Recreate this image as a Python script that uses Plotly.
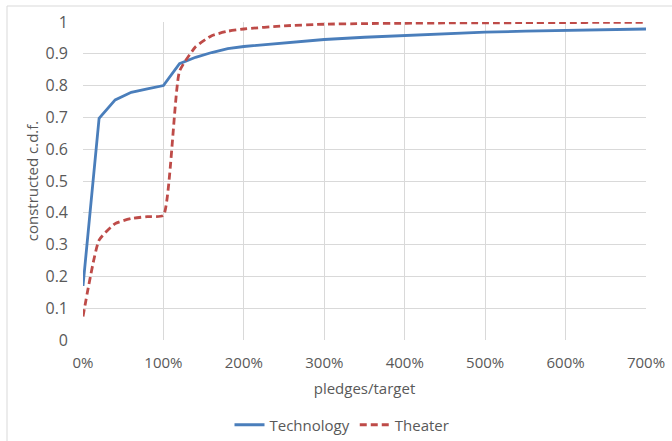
import plotly.graph_objects as go

# pledges/target ratio (1.0 = 100%)
ratio = [0.0, 0.2, 0.4, 0.6, 0.8, 1.0, 1.2, 1.4, 1.6, 1.8, 2.0,
         2.5, 3.0, 3.5, 4.0, 4.5, 5.0, 5.5, 6.0, 6.5, 7.0]
technology = [0.170, 0.697, 0.755, 0.779, 0.790, 0.800, 0.869, 0.889, 0.904, 0.916, 0.923,
              0.935, 0.945, 0.952, 0.958, 0.963, 0.968, 0.971, 0.974, 0.976, 0.978]
theater = [0.074, 0.314, 0.366, 0.382, 0.388, 0.392, 0.845, 0.922, 0.957, 0.971, 0.978,
           0.988, 0.993, 0.995, 0.996, 0.997, 0.997, 0.998, 0.998, 0.999, 0.999]

x_ticks = [0, 1, 2, 3, 4, 5, 6, 7]
x_tick_labels = ["0%", "100%", "200%", "300%", "400%", "500%", "600%", "700%"]
y_ticks = [0, 0.1, 0.2, 0.3, 0.4, 0.5, 0.6, 0.7, 0.8, 0.9, 1]
y_tick_labels = ["0", "0.1", "0.2", "0.3", "0.4", "0.5", "0.6", "0.7", "0.8", "0.9", "1"]

FONT = "Open Sans"
TXT = "#595959"
GRID = "#d9d9d9"

fig = go.Figure()
fig.add_trace(go.Scatter(x=ratio, y=technology, name="Technology", mode="lines",
                         line=dict(color="#4a7ebb", width=2.8), cliponaxis=False))
fig.add_trace(go.Scatter(x=ratio, y=theater, name="Theater", mode="lines",
                         line=dict(color="#be4b48", width=2.8, dash="7px,4px", shape="spline", smoothing=0.45),
                         cliponaxis=False))

L, R, T, B = 83, 646, 22, 340
W, H = 672, 441
pw, ph = R - L, B - T

def px(xp):
    return (xp - L) / pw

def py(yp):
    return (B - yp) / ph

fig.add_shape(type="rect", xref="paper", yref="paper",
              x0=px(7), x1=px(680), y0=py(450), y1=py(6),
              line=dict(color=GRID, width=1), fillcolor="rgba(0,0,0,0)", layer="below")

fig.update_layout(
    width=W, height=H,
    margin=dict(l=L, r=W - R, t=T, b=H - B, pad=0, autoexpand=False),
    paper_bgcolor="white", plot_bgcolor="white",
    font=dict(family=FONT, size=15, color=TXT),
    showlegend=True,
    legend=dict(orientation="h", xref="container", yref="container",
                x=342 / W, xanchor="center", y=1 - 425 / H, yanchor="middle",
                font=dict(family=FONT, size=15, color=TXT), itemwidth=30,
                bgcolor="rgba(0,0,0,0)", traceorder="normal"),
    xaxis=dict(range=[0, 7], tickvals=x_ticks, ticktext=x_tick_labels,
               showgrid=True, gridcolor=GRID, gridwidth=1, zeroline=False,
               showline=False, ticks="", ticklabelstandoff=12,
               tickfont=dict(family=FONT, size=15, color=TXT),
               title=dict(text="pledges/target", font=dict(family=FONT, size=15, color=TXT), standoff=12),
               automargin=False),
    yaxis=dict(range=[0, 1], tickvals=y_ticks, ticktext=y_tick_labels,
               showgrid=True, gridcolor=GRID, gridwidth=1, zeroline=False,
               showline=False, ticks="", ticklabelstandoff=14,
               tickfont=dict(family=FONT, size=16, color=TXT),
               title=dict(text="constructed c.d.f.", font=dict(family=FONT, size=15, color=TXT), standoff=3),
               automargin=False),
)

fig.write_html("out.html", config={"displayModeBar": False})

# remove the default body margin so the figure sits at the page origin
with open("out.html", "r", encoding="utf-8") as f:
    html = f.read()
html = html.replace("<body>", '<body style="margin:0;overflow:hidden">', 1)
with open("out.html", "w", encoding="utf-8") as f:
    f.write(html)
